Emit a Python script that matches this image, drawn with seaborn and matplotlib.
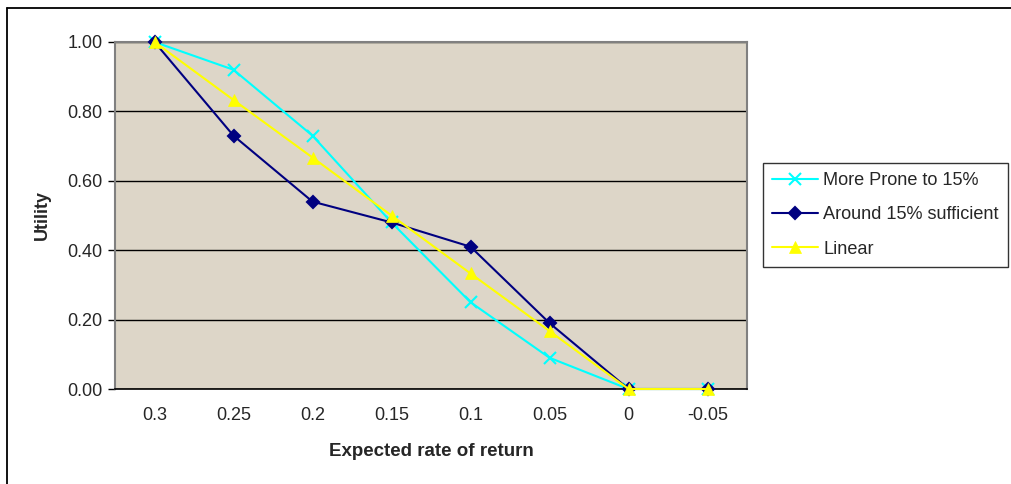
import matplotlib
matplotlib.use("Agg")
import matplotlib.pyplot as plt
import seaborn as sns
import pandas as pd
from matplotlib.lines import Line2D
from matplotlib.ticker import FixedLocator

categories = ["0.3", "0.25", "0.2", "0.15", "0.1", "0.05", "0", "-0.05"]
more_prone = [1.00, 0.92, 0.73, 0.48, 0.25, 0.09, 0.00, 0.00]
around_15 = [1.00, 0.73, 0.54, 0.48, 0.41, 0.19, 0.00, 0.00]
linear = [1.00, 0.833, 0.667, 0.50, 0.333, 0.167, 0.00, 0.00]
series_names = ["More Prone to 15%", "Around 15% sufficient", "Linear"]
y_ticks = [0.0, 0.2, 0.4, 0.6, 0.8, 1.0]

sns.set_style("white")
plt.rcParams["font.family"] = ["Liberation Sans", "DejaVu Sans"]

rows = []
for name, vals in zip(series_names, [more_prone, around_15, linear]):
    for i, (c, v) in enumerate(zip(categories, vals)):
        rows.append({"pos": i, "cat": c, "value": v, "series": name})
df = pd.DataFrame(rows)

fig = plt.figure(figsize=(10.11, 4.84), dpi=100)
# outer chart border: only top and left edges are visible
fig.lines.append(Line2D([7 / 1011, 7 / 1011], [-0.01, 1 - 8 / 484], transform=fig.transFigure,
                        color="black", linewidth=1.3))
fig.lines.append(Line2D([7 / 1011, 1.01], [1 - 8 / 484, 1 - 8 / 484], transform=fig.transFigure,
                        color="black", linewidth=1.3))
ax = fig.add_axes([115 / 1011, 1 - 389 / 484, 632 / 1011, 347 / 484])
ax.set_facecolor("#DDD6C8")

palette = {"More Prone to 15%": "#00FFFF", "Around 15% sufficient": "#000080", "Linear": "#FFFF00"}
markers = {"More Prone to 15%": "x", "Around 15% sufficient": "D", "Linear": "^"}
sizes = {"More Prone to 15%": 8, "Around 15% sufficient": 6, "Linear": 9}

ax.set_axisbelow(True)
ax.yaxis.grid(True, color="black", linewidth=1.0)
ax.xaxis.grid(False)

for name in series_names:
    sub = df[df["series"] == name]
    sns.lineplot(data=sub, x="pos", y="value", ax=ax, color=palette[name],
                 marker=markers[name], markersize=sizes[name],
                 markeredgecolor=palette[name], markeredgewidth=1.5 if name != "Linear" else 0.5,
                 linewidth=1.5, label=name, clip_on=False, zorder=3)

ax.set_xlim(-0.5, len(categories) - 0.5)
ax.set_ylim(0, 1.0)
ax.set_xticks(range(len(categories)))
ax.set_xticklabels(categories, fontsize=13)
ax.xaxis.set_minor_locator(FixedLocator([i + 0.5 for i in range(len(categories))]))
ax.tick_params(axis="x", which="major", length=0, pad=13)
ax.tick_params(axis="x", which="minor", length=5, direction="out", color="black", width=1)
ax.set_yticks(y_ticks)
ax.set_yticklabels([f"{t:.2f}" for t in y_ticks], fontsize=13)
ax.tick_params(axis="y", length=5, direction="out", color="black", width=1, pad=4, left=True)

for s in ["left", "top", "right"]:
    ax.spines[s].set_color("#808080")
    ax.spines[s].set_linewidth(1.5)
ax.spines["bottom"].set_color("black")
ax.spines["bottom"].set_linewidth(1.2)

ax.set_xlabel("Expected rate of return", fontsize=13.5, fontweight="bold", labelpad=14)
ax.set_ylabel("Utility", fontsize=13, fontweight="bold", labelpad=12)

leg = ax.legend(loc="upper left", bbox_to_anchor=(763 / 1011, 1 - 163 / 484),
                bbox_transform=fig.transFigure, frameon=True, fancybox=False,
                edgecolor="black", fontsize=13.1, handlelength=2.5, borderpad=0.5,
                labelspacing=0.95, handletextpad=0.3, borderaxespad=0)
leg.get_frame().set_linewidth(1.0)

fig.savefig("out.png", dpi=100)
